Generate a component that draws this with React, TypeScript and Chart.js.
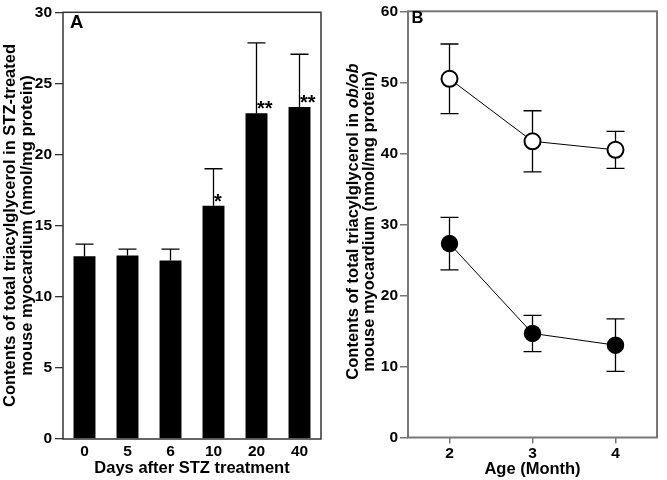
import React, { useEffect, useRef } from 'react';
import { Chart, registerables } from 'chart.js';

Chart.register(...registerables);

const FONT = '"Liberation Sans", Arial, Helvetica, sans-serif';

// ---------- Panel A data ----------
const DAYS = ['0', '5', '6', '10', '20', '40'];
const TG_STZ = [12.85, 12.9, 12.55, 16.4, 22.9, 23.35];
const TG_STZ_SD = [0.85, 0.45, 0.8, 2.6, 4.95, 3.7];
const STZ_SIG = ['', '', '', '*', '**', '**'];
const A_Y_MIN = 0;
const A_Y_MAX = 30;
const A_Y_STEP = 5;
const A_X_TITLE = 'Days after STZ treatment';
const A_Y_TITLE = [
  [{ t: 'Contents of total triacylglycerol in STZ-treated', i: false }],
  [{ t: 'mouse myocardium (nmol/mg protein)', i: false }],
];

// ---------- Panel B data ----------
const AGE = ['2', '3', '4'];
const TG_OPEN = [50.5, 41.7, 40.5];
const TG_OPEN_SD = [4.9, 4.3, 2.6];
const TG_FILLED = [27.3, 14.65, 13.0];
const TG_FILLED_SD = [3.7, 2.55, 3.7];
const B_Y_MIN = 0;
const B_Y_MAX = 60;
const B_Y_STEP = 10;
const B_X_TITLE = 'Age (Month)';
const B_Y_TITLE = [
  [
    { t: 'Contents of total triacylglycerol in ', i: false },
    { t: 'ob/ob', i: true },
  ],
  [{ t: 'mouse myocardium (nmol/mg protein)', i: false }],
];

type Seg = { t: string; i: boolean };

function yTitlePlugin(lines: Seg[][], baselines: number[], cy: number, size: number) {
  return {
    id: 'yTitle',
    afterDraw(chart: any) {
      const ctx = chart.ctx as CanvasRenderingContext2D;
      ctx.save();
      ctx.fillStyle = '#000';
      ctx.textBaseline = 'alphabetic';
      ctx.textAlign = 'left';
      lines.forEach((segs, li) => {
        let total = 0;
        segs.forEach((s) => {
          ctx.font = `${s.i ? 'italic ' : ''}bold ${size}px ${FONT}`;
          total += ctx.measureText(s.t).width;
        });
        ctx.save();
        ctx.translate(baselines[li], cy);
        ctx.rotate(-Math.PI / 2);
        let x = -total / 2;
        segs.forEach((s) => {
          ctx.font = `${s.i ? 'italic ' : ''}bold ${size}px ${FONT}`;
          ctx.fillText(s.t, x, 0);
          x += ctx.measureText(s.t).width;
        });
        ctx.restore();
      });
      ctx.restore();
    },
  };
}

function framePlugin(color: string, width: number) {
  return {
    id: 'frame',
    afterDraw(chart: any) {
      const { ctx, chartArea } = chart;
      ctx.save();
      ctx.strokeStyle = color;
      ctx.lineWidth = width;
      ctx.strokeRect(chartArea.left, chartArea.top, chartArea.right - chartArea.left, chartArea.bottom - chartArea.top);
      ctx.restore();
    },
  };
}

function panelLabelPlugin(text: string, x: number, y: number, size: number) {
  return {
    id: 'panelLabel',
    afterDraw(chart: any) {
      const ctx = chart.ctx as CanvasRenderingContext2D;
      ctx.save();
      ctx.fillStyle = '#000';
      ctx.font = `bold ${size}px ${FONT}`;
      ctx.textAlign = 'left';
      ctx.textBaseline = 'alphabetic';
      ctx.fillText(text, x, y);
      ctx.restore();
    },
  };
}

const errorBarsA = {
  id: 'errA',
  afterDatasetsDraw(chart: any) {
    const ctx = chart.ctx as CanvasRenderingContext2D;
    const meta = chart.getDatasetMeta(0);
    const ys = chart.scales.y;
    ctx.save();
    ctx.strokeStyle = '#000';
    ctx.lineWidth = 1.3;
    meta.data.forEach((bar: any, i: number) => {
      const x = bar.x;
      const y0 = ys.getPixelForValue(TG_STZ[i]);
      const y1 = ys.getPixelForValue(TG_STZ[i] + TG_STZ_SD[i]);
      ctx.beginPath();
      ctx.moveTo(x, y0);
      ctx.lineTo(x, y1);
      ctx.moveTo(x - 9, y1);
      ctx.lineTo(x + 9, y1);
      ctx.stroke();
      const sig = STZ_SIG[i];
      if (sig) {
        ctx.fillStyle = '#000';
        ctx.font = `bold 20px ${FONT}`;
        ctx.textAlign = 'left';
        ctx.textBaseline = 'alphabetic';
        ctx.fillText(sig, x + 0.5, y0 + 2);
      }
    });
    ctx.restore();
  },
};

const errorBarsB = {
  id: 'errB',
  beforeDatasetsDraw(chart: any) {
    const ctx = chart.ctx as CanvasRenderingContext2D;
    const ys = chart.scales.y;
    const sets = [
      { v: TG_OPEN, sd: TG_OPEN_SD, m: chart.getDatasetMeta(0) },
      { v: TG_FILLED, sd: TG_FILLED_SD, m: chart.getDatasetMeta(1) },
    ];
    ctx.save();
    ctx.strokeStyle = '#000';
    ctx.lineWidth = 1.3;
    sets.forEach((s) => {
      s.m.data.forEach((pt: any, i: number) => {
        const x = pt.x;
        const yHi = ys.getPixelForValue(s.v[i] + s.sd[i]);
        const yLo = ys.getPixelForValue(s.v[i] - s.sd[i]);
        ctx.beginPath();
        ctx.moveTo(x, yLo);
        ctx.lineTo(x, yHi);
        ctx.moveTo(x - 9, yHi);
        ctx.lineTo(x + 9, yHi);
        ctx.moveTo(x - 9, yLo);
        ctx.lineTo(x + 9, yLo);
        ctx.stroke();
      });
    });
    ctx.restore();
  },
};

function PanelA() {
  const ref = useRef<HTMLCanvasElement>(null);
  useEffect(() => {
    const chart = new Chart(ref.current!, {
      type: 'bar',
      data: {
        labels: DAYS,
        datasets: [
          {
            data: TG_STZ,
            backgroundColor: '#000',
            borderWidth: 0,
            barPercentage: 0.51,
            categoryPercentage: 1,
          },
        ],
      },
      options: {
        responsive: false,
        animation: false,
        layout: { padding: { top: 9, right: 19, left: 0, bottom: 0 } },
        plugins: { legend: { display: false }, tooltip: { enabled: false } },
        scales: {
          x: {
            grid: { display: false, drawTicks: false },
            border: { display: false },
            ticks: { color: '#000', font: { family: FONT, size: 15.5, weight: 'bold' }, padding: 3 },
            title: {
              display: true,
              text: A_X_TITLE,
              color: '#000',
              font: { family: FONT, size: 16.5, weight: 'bold' },
              padding: { top: 0, bottom: 2 },
            },
            afterFit: (s: any) => {
              s.height = 41;
            },
          },
          y: {
            min: A_Y_MIN,
            max: A_Y_MAX,
            grid: { drawOnChartArea: false, tickLength: 8, color: '#333', lineWidth: 1.3 },
            border: { display: false },
            ticks: {
              stepSize: A_Y_STEP,
              color: '#000',
              font: { family: FONT, size: 15.5, weight: 'bold' },
              padding: 3,
            },
            afterFit: (s: any) => {
              s.width = 63;
            },
          },
        },
      } as any,
      plugins: [
        errorBarsA,
        framePlugin('#333', 1.5),
        yTitlePlugin(A_Y_TITLE as Seg[][], [15, 32], 225.5, 16.5),
        panelLabelPlugin('A', 70, 28.3, 18.5),
      ],
    });
    return () => chart.destroy();
  }, []);
  return <canvas ref={ref} width={340} height={480} style={{ display: 'block' }} />;
}

function PanelB() {
  const ref = useRef<HTMLCanvasElement>(null);
  useEffect(() => {
    const chart = new Chart(ref.current!, {
      type: 'line',
      data: {
        labels: AGE,
        datasets: [
          {
            data: TG_OPEN,
            borderColor: '#000',
            borderWidth: 1,
            pointRadius: 8,
            pointBorderWidth: 2,
            pointBackgroundColor: '#fff',
            pointBorderColor: '#000',
            fill: false,
          },
          {
            data: TG_FILLED,
            borderColor: '#000',
            borderWidth: 1,
            pointRadius: 8,
            pointBorderWidth: 1.5,
            pointBackgroundColor: '#000',
            pointBorderColor: '#000',
            fill: false,
          },
        ],
      },
      options: {
        responsive: false,
        animation: false,
        layout: { padding: { top: 7.5, right: 1, left: 0, bottom: 0 } },
        plugins: { legend: { display: false }, tooltip: { enabled: false } },
        scales: {
          x: {
            offset: true,
            grid: { drawOnChartArea: false, offset: false, tickLength: 6, color: '#777', lineWidth: 1.5 },
            border: { display: false },
            ticks: { color: '#000', font: { family: FONT, size: 15.5, weight: 'bold' }, padding: 1 },
            title: {
              display: true,
              text: B_X_TITLE,
              color: '#000',
              font: { family: FONT, size: 16.5, weight: 'bold' },
              padding: { top: 0, bottom: 0.5 },
            },
            afterFit: (s: any) => {
              s.height = 42.5;
            },
          },
          y: {
            min: B_Y_MIN,
            max: B_Y_MAX,
            grid: { drawOnChartArea: false, tickLength: 8, color: '#777', lineWidth: 1.5 },
            border: { display: false },
            ticks: {
              stepSize: B_Y_STEP,
              color: '#000',
              font: { family: FONT, size: 15.5, weight: 'bold' },
              padding: 2,
            },
            afterFit: (s: any) => {
              s.width = 68;
            },
          },
        },
      } as any,
      plugins: [
        errorBarsB,
        framePlugin('#777', 2),
        yTitlePlugin(B_Y_TITLE as Seg[][], [18, 33.5], 221.5, 16.5),
        panelLabelPlugin('B', 71.5, 23.3, 16.5),
      ],
    });
    return () => chart.destroy();
  }, []);
  return <canvas ref={ref} width={327} height={480} style={{ display: 'block' }} />;
}

export default function App() {
  return (
    <div style={{ position: 'absolute', left: 0, top: 0, width: 667, height: 480, background: '#fff' }}>
      <div style={{ position: 'absolute', left: 0, top: 0, width: 340, height: 480 }}>
        <PanelA />
      </div>
      <div style={{ position: 'absolute', left: 340, top: 0, width: 327, height: 480 }}>
        <PanelB />
      </div>
    </div>
  );
}
